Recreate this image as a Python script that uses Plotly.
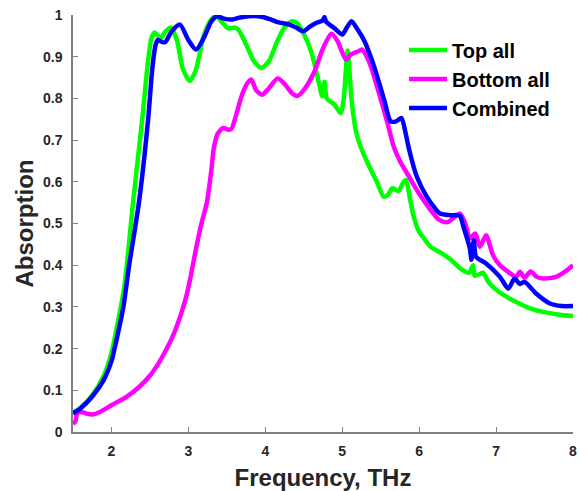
import plotly.graph_objects as go

# Absorption spectra (frequency in THz)
top_x = [1.5, 1.6, 1.75, 1.9, 2.0, 2.1, 2.16, 2.2, 2.28, 2.40, 2.47, 2.52, 2.56, 2.64, 2.70, 2.77,
         2.85, 2.93, 3.02, 3.10, 3.2, 3.3, 3.36, 3.45, 3.52, 3.60, 3.65, 3.75, 3.85, 3.95, 4.05,
         4.15, 4.25, 4.35, 4.42, 4.5, 4.6, 4.7, 4.74, 4.77, 4.80, 4.9, 4.98, 5.02, 5.07, 5.12,
         5.18, 5.24, 5.33, 5.45, 5.54, 5.6, 5.65, 5.73, 5.8, 5.83, 5.88, 5.93, 6.0, 6.06, 6.15,
         6.28, 6.4, 6.55, 6.65, 6.70, 6.72, 6.78, 6.83, 6.9, 6.96, 7.1, 7.26, 7.45, 7.61, 7.8, 8.0]
top_y = [0.045, 0.058, 0.088, 0.135, 0.19, 0.28, 0.34, 0.40, 0.55, 0.75, 0.88, 0.945, 0.958, 0.945,
         0.96, 0.97, 0.94, 0.87, 0.842, 0.87, 0.95, 0.99, 0.997, 0.98, 0.968, 0.97, 0.965, 0.93,
         0.89, 0.873, 0.89, 0.935, 0.97, 0.985, 0.98, 0.955, 0.91, 0.835, 0.805, 0.84, 0.80,
         0.785, 0.765, 0.80, 0.915, 0.80, 0.72, 0.684, 0.645, 0.60, 0.564, 0.57, 0.585, 0.578,
         0.60, 0.604, 0.56, 0.516, 0.48, 0.465, 0.444, 0.43, 0.415, 0.39, 0.382, 0.40, 0.375,
         0.378, 0.382, 0.36, 0.348, 0.328, 0.312, 0.296, 0.288, 0.282, 0.278]

bottom_x = [1.5, 1.53, 1.56, 1.63, 1.7, 1.755, 1.85, 2.0, 2.2, 2.36, 2.5, 2.61, 2.72, 2.83, 2.96,
            3.02, 3.1, 3.17, 3.24, 3.30, 3.33, 3.38, 3.45, 3.52, 3.56, 3.62, 3.70, 3.78, 3.82,
            3.88, 3.96, 4.05, 4.16, 4.25, 4.35, 4.42, 4.52, 4.64, 4.75, 4.86, 4.94, 5.0, 5.05,
            5.11, 5.20, 5.26, 5.32, 5.37, 5.45, 5.54, 5.59, 5.67, 5.75, 5.84, 5.97, 6.06, 6.15,
            6.25, 6.32, 6.38, 6.45, 6.53, 6.60, 6.66, 6.73, 6.79, 6.87, 6.96, 7.05, 7.13, 7.26,
            7.31, 7.37, 7.45, 7.53, 7.61, 7.78, 7.9, 8.0]
bottom_y = [0.02, 0.025, 0.048, 0.047, 0.043, 0.042, 0.048, 0.064, 0.085, 0.108, 0.135, 0.164,
            0.2, 0.244, 0.316, 0.364, 0.44, 0.50, 0.55, 0.63, 0.68, 0.715, 0.729, 0.725, 0.727,
            0.76, 0.81, 0.84, 0.845, 0.82, 0.809, 0.825, 0.848, 0.835, 0.812, 0.806, 0.825,
            0.865, 0.92, 0.955, 0.937, 0.91, 0.893, 0.905, 0.912, 0.917, 0.90, 0.878, 0.83,
            0.773, 0.74, 0.684, 0.65, 0.621, 0.58, 0.555, 0.532, 0.51, 0.504, 0.504, 0.514,
            0.524, 0.50, 0.464, 0.476, 0.444, 0.472, 0.424, 0.40, 0.388, 0.372, 0.384, 0.37,
            0.385, 0.372, 0.368, 0.372, 0.385, 0.40]

comb_x = [1.5, 1.6, 1.75, 1.9, 2.0, 2.04, 2.1, 2.155, 2.23, 2.357, 2.477, 2.53, 2.57, 2.60, 2.66,
          2.70, 2.78, 2.89, 3.0, 3.10, 3.2, 3.3, 3.37, 3.45, 3.56, 3.65, 3.78, 3.95, 4.06, 4.16,
          4.31, 4.40, 4.49, 4.58, 4.66, 4.74, 4.77, 4.79, 4.9, 5.0, 5.06, 5.12, 5.2, 5.29, 5.36,
          5.42, 5.54, 5.63, 5.70, 5.77, 5.82, 5.87, 5.97, 6.10, 6.2, 6.27, 6.4, 6.49, 6.53, 6.58,
          6.66, 6.68, 6.71, 6.74, 6.87, 7.05, 7.16, 7.24, 7.31, 7.37, 7.52, 7.70, 7.85, 8.0]
comb_y = [0.045, 0.057, 0.085, 0.125, 0.17, 0.2, 0.25, 0.30, 0.40, 0.55, 0.75, 0.87, 0.925, 0.94,
          0.935, 0.935, 0.96, 0.977, 0.94, 0.917, 0.945, 0.985, 0.997, 0.992, 0.989, 0.993,
          0.997, 0.996, 0.99, 0.983, 0.977, 0.97, 0.961, 0.972, 0.981, 0.986, 0.995, 0.984,
          0.968, 0.953, 0.97, 0.985, 0.965, 0.937, 0.905, 0.873, 0.80, 0.745, 0.745, 0.753,
          0.72, 0.677, 0.612, 0.564, 0.538, 0.524, 0.52, 0.52, 0.518, 0.49, 0.44, 0.413, 0.46,
          0.42, 0.404, 0.372, 0.344, 0.368, 0.355, 0.36, 0.332, 0.308, 0.302, 0.302]

x_ticks = [2, 3, 4, 5, 6, 7, 8]
y_ticks = [0, 0.1, 0.2, 0.3, 0.4, 0.5, 0.6, 0.7, 0.8, 0.9, 1]
y_tick_text = ["0", "0.1", "0.2", "0.3", "0.4", "0.5", "0.6", "0.7", "0.8", "0.9", "1"]

series = [
    ("Top all", top_x, top_y, "#00ff00"),
    ("Bottom all", bottom_x, bottom_y, "#ff00ff"),
    ("Combined", comb_x, comb_y, "#0000ff"),
]

fig = go.Figure()
for name, xs, ys, col in series:
    fig.add_trace(go.Scatter(
        x=xs, y=ys, name=name, mode="lines",
        line=dict(color=col, width=4.5, shape="spline", smoothing=0.7),
    ))

FONT = "Arial, Liberation Sans, sans-serif"
tick_font = dict(family=FONT, size=14, color="#262626", weight="bold")
title_font = dict(family=FONT, size=24, color="#262626", weight="bold")

fig.update_layout(
    width=579, height=491,
    margin=dict(l=73, r=2, t=15, b=59),
    paper_bgcolor="white", plot_bgcolor="white",
    showlegend=True,
    legend=dict(
        x=0.662, y=0.963, xanchor="left", yanchor="top",
        font=dict(family=FONT, size=20, color="black", weight="bold"),
        bgcolor="rgba(0,0,0,0)", itemwidth=38, tracegroupgap=0,
    ),
    xaxis=dict(
        range=[1.5, 8], tickvals=x_ticks, ticks="inside", ticklen=5, tickwidth=1,
        tickcolor="#808080", showline=True, linecolor="#808080", linewidth=1.5,
        showgrid=False, zeroline=False, mirror=False,
        tickfont=tick_font, ticklabelstandoff=5, ticklabeloverflow="allow",
        title=dict(text="Frequency, THz", standoff=14, font=title_font),
    ),
    yaxis=dict(
        range=[0, 1], tickvals=y_ticks, ticktext=y_tick_text, ticks="inside", ticklen=5,
        tickwidth=1, tickcolor="#808080", showline=True, linecolor="#808080", linewidth=1.5,
        showgrid=False, zeroline=False, mirror=False,
        tickfont=tick_font, ticklabelstandoff=6,
        title=dict(text="Absorption", standoff=3, font=title_font),
    ),
)

fig.write_html("out.html")
